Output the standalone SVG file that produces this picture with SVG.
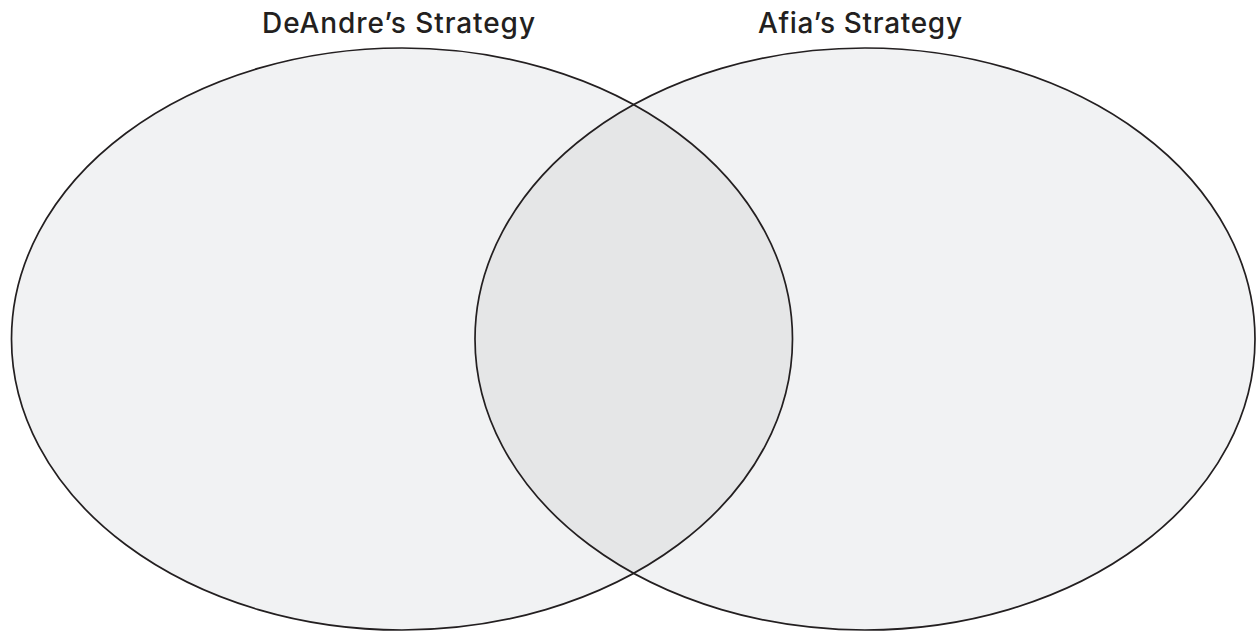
<svg xmlns="http://www.w3.org/2000/svg" width="1259" height="631" viewBox="0 0 1259 631">
<style>
.fill{fill:#f1f2f3;stroke:none}
.overlap{fill:#e5e6e7;stroke:none}
.outline{fill:none;stroke:#231f20;stroke-width:1.7}
.title{font-family:Inter,"Open Sans","Liberation Sans",Arial,sans-serif;font-size:28px;font-weight:500;fill:#231f20;text-anchor:middle}
</style>
<defs>
<clipPath id="clipLeft"><ellipse cx="402" cy="339" rx="390.5" ry="291"/></clipPath>
</defs>
<rect width="1259" height="631" fill="#ffffff"/>
<g id="deandre">
<ellipse class="fill" cx="402" cy="339" rx="390.5" ry="291"/>
</g>
<g id="afia">
<ellipse class="fill" cx="865" cy="339" rx="390" ry="291"/>
</g>
<g id="overlap">
<ellipse class="overlap" cx="865" cy="339" rx="390" ry="291" clip-path="url(#clipLeft)"/>
</g>
<g id="outlines">
<ellipse class="outline" cx="402" cy="339" rx="390.5" ry="291"/>
<ellipse class="outline" cx="865" cy="339" rx="390" ry="291"/>
</g>
<g id="labels">
<text class="title" x="398.5" y="32.5" textLength="273" lengthAdjust="spacing">DeAndre’s Strategy</text>
<text class="title" x="860" y="32.5" textLength="204" lengthAdjust="spacing">Afia’s Strategy</text>
</g>
</svg>
